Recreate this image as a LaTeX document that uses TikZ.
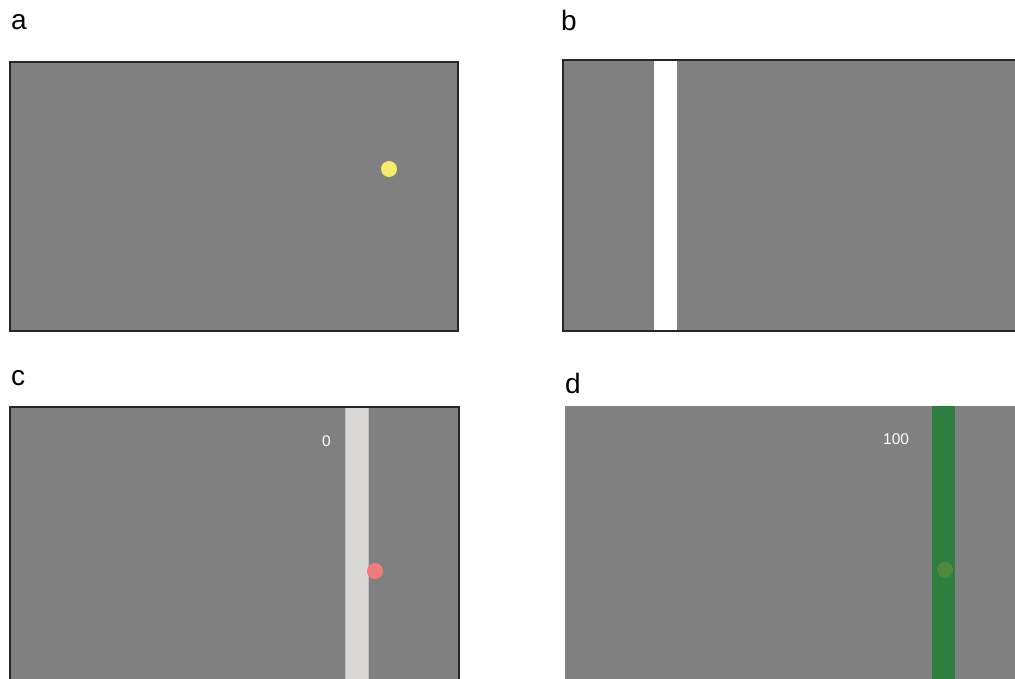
\documentclass[tikz,border=0pt]{standalone}
\usepackage{fontspec}
\setmainfont{Liberation Sans}
\definecolor{screengray}{HTML}{808080}
\definecolor{dotyellow}{HTML}{F5EC6C}
\definecolor{dotred}{HTML}{F27A7A}
\definecolor{dotolive}{HTML}{4F8A3C}
\definecolor{barlight}{HTML}{D9D8D6}
\definecolor{bargreen}{HTML}{2E7F3F}
\tikzset{
  panellabel/.style={anchor=base west, inner sep=0pt, font=\fontsize{28}{30}\selectfont},
  score/.style={anchor=base west, inner sep=0pt, text=white, font=\fontsize{15.5}{17}\selectfont},
  frame/.style={line width=1.3pt, draw=black!85}
}
\begin{document}
\begin{tikzpicture}[x=1pt,y=-1pt]
      \useasboundingbox (0,0) rectangle (1015,679);
      % Panneau a : point seul
      \begin{scope}
        \fill[screengray] (10,62) rectangle (458,331);
        \draw[frame] (10,62) rectangle (458,331);
        \fill[dotyellow] (389,169) circle (8);
        \node[panellabel] (la) at (11,30) {a};
      \end{scope}
      % Panneau b : barre blanche
      \begin{scope}
        \fill[screengray] (563,60) rectangle (1015,331);
        \fill[white] (654,60) rectangle (677,331);
        \draw[frame] (1016,60) -- (563,60) -- (563,331) -- (1016,331);
        \node[panellabel] (lb) at (561,31) {b};
      \end{scope}
      % Panneau c : barre claire, score 0
      \begin{scope}
        \fill[screengray] (10,407) rectangle (459,680);
        \fill[barlight] (345,407) rectangle (368,680);
        \draw[black!25, line width=0.6pt] (345,407) -- (345,680) (368,407) -- (368,680);
        \draw[frame] (10,680) -- (10,407) -- (459,407) -- (459,680);
        \fill[dotred] (375,571) circle (8);
        \node[score] (sc) at (322,446) {0};
        \node[panellabel] (lc) at (11,385) {c};
      \end{scope}
      % Panneau d : barre verte, score 100
      \begin{scope}
        \fill[screengray] (565,406) rectangle (1015,680);
        \fill[bargreen] (932,406) rectangle (955,680);
        \fill[dotolive] (945,570) circle (8);
        \node[score] (sd) at (883,444) {100};
        \node[panellabel] (ld) at (565,393) {d};
      \end{scope}
    \end{tikzpicture}
\end{document}
